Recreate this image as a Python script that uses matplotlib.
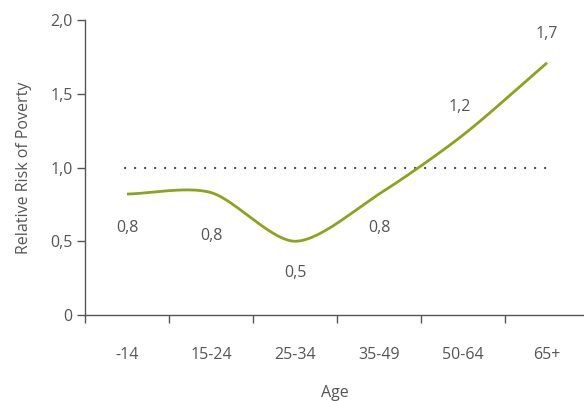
import numpy as np
import matplotlib
matplotlib.use("Agg")
import matplotlib.pyplot as plt
from matplotlib.ticker import FixedLocator, FuncFormatter

# ---------- Data ----------
age_groups = ["-14", "15-24", "25-34", "35-49", "50-64", "65+"]
risk = [0.82, 0.83, 0.50, 0.82, 1.22, 1.71]
risk_labels = ["0,8", "0,8", "0,5", "0,8", "1,2", "1,7"]
label_offsets_px = [(0, -34), (0, -43), (0, -32), (0, -34), (-3, 28), (0, 29)]
reference_level = 1.0

green = "#8aa41c"
grey = "#555555"
fs = 11.5
plt.rcParams["font.family"] = ["Open Sans", "DejaVu Sans"]


def cardinal(x, y, tension=0.5, n=40):
    # smooth curve through the points (display only)
    x = np.asarray(x, float)
    y = np.asarray(y, float)
    px = np.concatenate([[2 * x[0] - x[1]], x, [2 * x[-1] - x[-2]]])
    py = np.concatenate([[2 * y[0] - y[1]], y, [2 * y[-1] - y[-2]]])
    t = np.linspace(0, 1, n, endpoint=False)
    h00 = 2 * t ** 3 - 3 * t ** 2 + 1
    h10 = t ** 3 - 2 * t ** 2 + t
    h01 = -2 * t ** 3 + 3 * t ** 2
    h11 = t ** 3 - t ** 2
    xs, ys = [], []
    for i in range(1, len(px) - 2):
        for p, out in ((px, xs), (py, ys)):
            m1 = tension * (p[i + 1] - p[i - 1])
            m2 = tension * (p[i + 2] - p[i])
            out.extend(h00 * p[i] + h10 * m1 + h01 * p[i + 1] + h11 * m2)
    xs.append(x[-1])
    ys.append(y[-1])
    return np.array(xs), np.array(ys)


fig = plt.figure(figsize=(5.84, 4.01), dpi=100)
ax = fig.add_axes([85 / 584, 86 / 401, 499 / 584, 295 / 401])

xpos = np.arange(len(age_groups))

# dotted reference line at 1,0
ax.plot([xpos[0] - 0.02, xpos[-1] + 0.02], [reference_level] * 2,
        color="#444444", lw=1.6, linestyle=(0, (0.1, 4.4)),
        dash_capstyle="round", zorder=2)

sx, sy = cardinal(xpos, risk, tension=0.42)
ax.plot(sx, sy, color=green, lw=2.0, solid_capstyle="butt", zorder=3)

for xi, yi, lab, off in zip(xpos, risk, risk_labels, label_offsets_px):
    ax.annotate(lab, (xi, yi), xytext=(off[0] * 0.72, off[1] * 0.72),
                textcoords="offset points", ha="center", va="center",
                fontsize=fs, color=grey)

ax.set_xlim(-0.5, 5.44)
ax.set_ylim(0, 2.0)

for s in ["top", "right"]:
    ax.spines[s].set_visible(False)
for s in ["left", "bottom"]:
    ax.spines[s].set_color(grey)
    ax.spines[s].set_linewidth(1.0)

ax.set_yticks([0, 0.5, 1.0, 1.5, 2.0])
ax.yaxis.set_major_formatter(FuncFormatter(
    lambda v, p: "0" if v == 0 else f"{v:.1f}".replace(".", ",")))
ax.tick_params(axis="y", direction="out", length=6, width=1, color=grey,
               labelcolor=grey, labelsize=fs, pad=3)

# group boundaries as ticks, names centred between them
ax.xaxis.set_major_locator(FixedLocator(xpos - 0.5))
ax.xaxis.set_major_formatter(FuncFormatter(lambda v, p: ""))
ax.xaxis.set_minor_locator(FixedLocator(xpos))
ax.set_xticklabels(age_groups, minor=True)
ax.tick_params(axis="x", which="major", direction="out", length=6, width=1,
               color=grey)
ax.tick_params(axis="x", which="minor", length=0, labelcolor=grey,
               labelsize=fs, pad=23)

ax.set_xlabel("Age", fontsize=fs, color=grey, labelpad=16)
ax.set_ylabel("Relative Risk of Poverty", fontsize=fs, color=grey,
              labelpad=13)

fig.savefig("out.png", dpi=100)
